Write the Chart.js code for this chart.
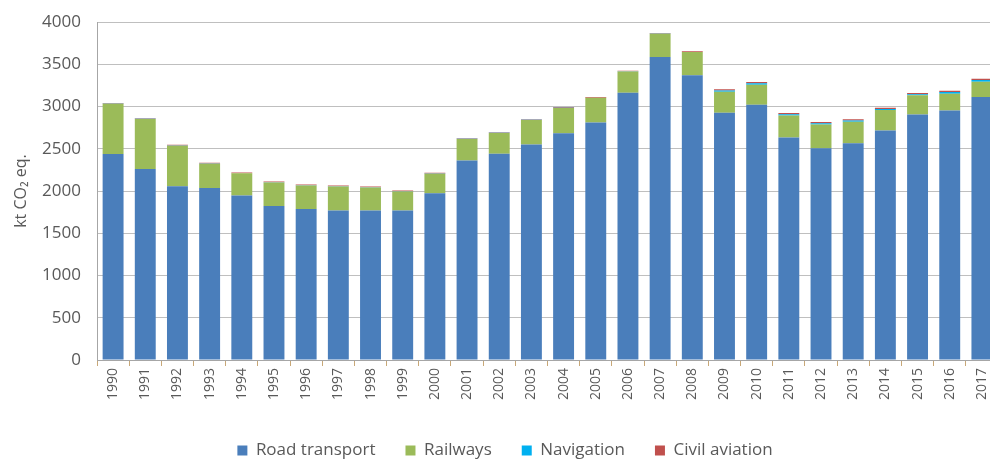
<!DOCTYPE html>
<html>
<head>
<meta charset="utf-8">
<script src="https://cdn.jsdelivr.net/npm/chart.js@4/dist/chart.umd.min.js"></script>
<style>
  html, body { margin: 0; padding: 0; background: #fff; overflow: hidden; }
  #wrap { width: 990px; height: 459px; overflow: hidden; }
  #chart { display: block; margin-top: -4px; }
</style>
</head>
<body>
<div id="wrap"><canvas id="chart" width="1006" height="473"></canvas></div>
<script>
const years = ['1990', '1991', '1992', '1993', '1994', '1995', '1996', '1997', '1998', '1999',
    '2000', '2001', '2002', '2003', '2004', '2005', '2006', '2007', '2008', '2009',
    '2010', '2011', '2012', '2013', '2014', '2015', '2016', '2017'];

// kt CO2 eq.
const road = [2440, 2263, 2057, 2038, 1947, 1824, 1789, 1769, 1769, 1769,
    1974, 2362, 2441, 2552, 2686, 2813, 3165, 3588, 3371, 2928,
    3022, 2635, 2508, 2568, 2718, 2908, 2955, 3114];
const railways = [594, 591, 481, 287, 263, 279, 278, 286, 274, 227,
    232, 255, 247, 290, 299, 291, 251, 275, 275, 247,
    237, 259, 282, 254, 243, 228, 199, 182];
const navigation = [2, 2, 2, 2, 2, 2, 2, 2, 2, 2,
    2, 2, 2, 2, 2, 2, 2, 2, 2, 15,
    18, 15, 12, 15, 10, 10, 20, 20];
const aviation = [8, 8, 8, 8, 8, 8, 8, 8, 8, 8,
    8, 8, 8, 8, 8, 8, 8, 8, 8, 15,
    15, 15, 15, 15, 15, 15, 15, 15];
const yTicks = [0, 500, 1000, 1500, 2000, 2500, 3000, 3500, 4000];

const ctx = document.querySelector('#chart').getContext('2d');
const txt = '#595959';

new Chart(ctx, {
    type: 'bar',
    data: {
        labels: years,
        datasets: [
            { label: 'Road transport', data: road, backgroundColor: '#4a7ebb' },
            { label: 'Railways', data: railways, backgroundColor: '#9bbb59' },
            { label: 'Navigation', data: navigation, backgroundColor: '#00b0f0' },
            { label: 'Civil aviation', data: aviation, backgroundColor: '#c0504d' }
        ]
    },
    options: {
        responsive: false,
        animation: false,
        layout: { padding: { top: 4, right: 8, left: 12, bottom: 0 } },
        datasets: { bar: { categoryPercentage: 1, barPercentage: 0.65 } },
        plugins: {
            tooltip: { enabled: false },
            legend: {
                position: 'bottom',
                labels: {
                    boxWidth: 10, boxHeight: 10, padding: 30,
                    color: txt, font: { family: 'Open Sans', size: 17 }
                }
            }
        },
        scales: {
            x: {
                stacked: true,
                grid: { offset: true, drawOnChartArea: false, tickLength: 6, color: '#c8a878' },
                border: { color: '#a6a6a6' },
                ticks: {
                    color: txt, font: { family: 'Open Sans', size: 14 },
                    maxRotation: 90, minRotation: 90, padding: 2, autoSkip: false
                },
                afterFit: s => { s.height = 52; }
            },
            y: {
                stacked: true,
                min: 0, max: 4000,
                afterBuildTicks: s => { s.ticks = yTicks.map(v => ({ value: v })); },
                grid: { color: '#bfbfbf', drawTicks: false },
                border: { color: '#a6a6a6' },
                ticks: {
                    color: txt, font: { family: 'Open Sans', size: 17 }, padding: 16,
                    callback: v => String(v)
                },
                title: {
                    display: true, text: 'kt CO\u2082 eq.', color: txt,
                    font: { family: 'Open Sans', size: 16 }, padding: 0
                },
                afterFit: s => { s.width = 85; }
            }
        }
    }
});
</script>
</body>
</html>
